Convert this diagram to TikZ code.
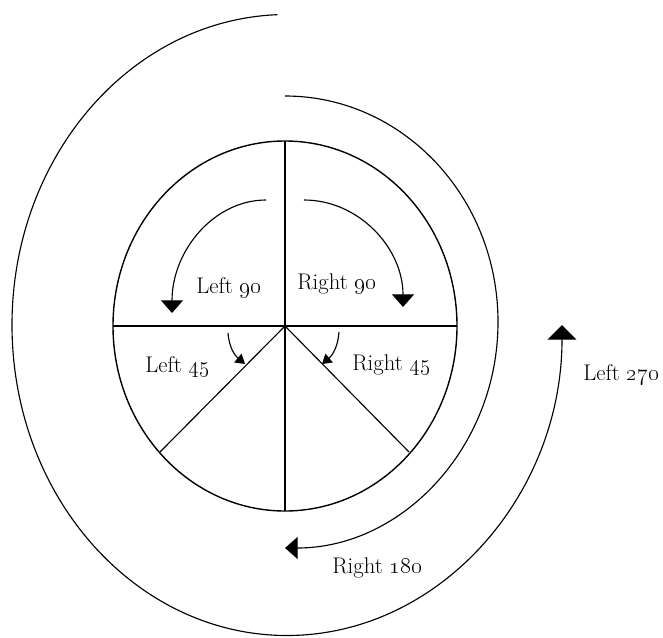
\documentclass[tikz,border=0pt]{standalone}
\usetikzlibrary{arrows.meta,calc}
\begin{document}
\begin{tikzpicture}[x=0.75pt,y=0.75pt,
  curve/.style={line width=0.85pt},
  straight/.style={line width=1.05pt},
  bighead/.style={-{Triangle[length=9.5pt,width=16.5pt]}},
  hugehead/.style={-{Triangle[length=11pt,width=21.5pt]}},
  smallhead/.style={-{Triangle[length=7pt,width=8.5pt]}},
  lbl/.style={anchor=base west,inner sep=0pt,font=\fontsize{17}{20}\selectfont}]
\useasboundingbox (0,0) rectangle (663,637);
% wheel
\coordinate (C) at (285,311);
\draw[straight] (C) ellipse [x radius=172,y radius=185];
\coordinate (top) at ($(C)+(0,185)$);
\coordinate (bot) at ($(C)+(0,-185)$);
\coordinate (lft) at ($(C)+(-172,0)$);
\coordinate (rgt) at ($(C)+(172,0)$);
\coordinate (dl) at ($(C)+(-125,-126)$);
\coordinate (dr) at ($(C)+(124,-126)$);
\draw[straight] (top) -- (bot);
\draw[straight] (lft) -- (rgt);
\draw[curve] (C) -- (dl);
\draw[curve] (C) -- (dr);
% Left 270 (outer)
\coordinate (O) at (287,312);
\draw[curve,hugehead] (O) ++(92:275 and 310.5)
  arc[start angle=92,end angle=360,x radius=275,y radius=310.5];
% Right 180 (middle)
\coordinate (M) at (285,315);
\draw[curve,bighead] (M) ++(90:213 and 226)
  arc[start angle=90,end angle=-90,x radius=213,y radius=226];
% Left 90
\coordinate (L9) at (266,324);
\draw[curve,bighead] (L9) ++(90:94 and 113)
  arc[start angle=90,end angle=180,x radius=94,y radius=113];
% Right 90
\coordinate (R9) at (304,330);
\draw[curve,bighead] (R9) ++(90:99 and 107)
  arc[start angle=90,end angle=0,x radius=99,y radius=107];
% small 45 arrows
\coordinate (l45s) at (228,304);
\coordinate (l45e) at (245,273);
\draw[curve,smallhead] (l45s) to[out=-86,in=140] (l45e);
\coordinate (r45s) at (339,305);
\coordinate (r45e) at (322,273);
\draw[curve,smallhead] (r45s) to[out=-94,in=40] (r45e);
% labels
\node[lbl] (tL90) at (196,344) {Left \oldstylenums{90}};
\node[lbl] (tR90) at (297,348) {Right \oldstylenums{90}};
\node[lbl] (tL45) at (145,265) {Left \oldstylenums{45}};
\node[lbl] (tR45) at (352,267) {Right \oldstylenums{45}};
\node[lbl] (tR180) at (332,64) {Right \oldstylenums{180}};
\node[lbl] (tL270) at (583,257) {Left \oldstylenums{270}};
\end{tikzpicture}
\end{document}
